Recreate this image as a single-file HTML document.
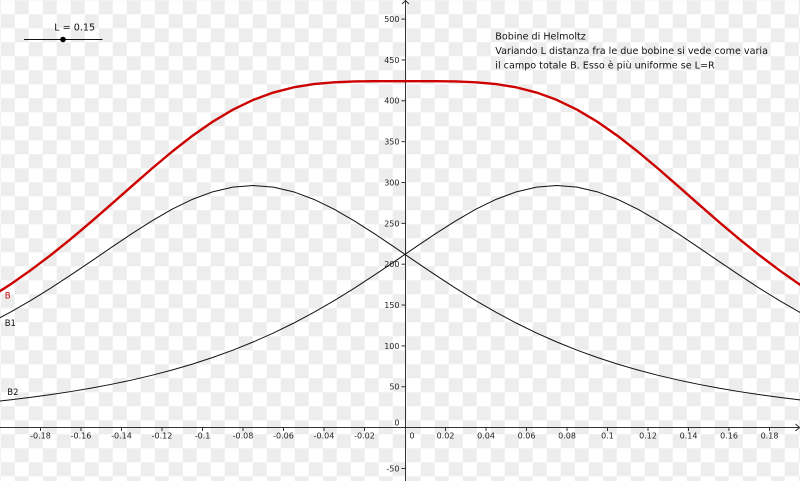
<!DOCTYPE html>
<html>
<head>
<meta charset="utf-8">
<style>
  html, body { margin: 0; padding: 0; background: #fff; }
  body { width: 800px; height: 481px; overflow: hidden; }
  svg { display: block; }
  text { font-family: "DejaVu Sans", "Liberation Sans", sans-serif; }
</style>
</head>
<body>
<svg width="800" height="481" viewBox="0 0 800 481" xmlns="http://www.w3.org/2000/svg">
  <defs>
    <pattern id="cb" x="0.7" y="0.3" width="28" height="28" patternUnits="userSpaceOnUse">
      <rect x="0" y="0" width="28" height="28" fill="#ffffff"/>
      <rect x="14" y="0" width="14" height="14" fill="#ededed"/>
      <rect x="0" y="14" width="14" height="14" fill="#ededed"/>
    </pattern>
  </defs>
  <rect x="0" y="0" width="800" height="481" fill="url(#cb)"/>

  <!-- axes -->
  <g stroke="#333" stroke-width="1" fill="none">
    <line x1="405.5" y1="0" x2="405.5" y2="481"/>
    <line x1="0" y1="427.5" x2="799" y2="427.5"/>
    <polyline points="402,4 405.5,0.5 409,4"/>
    <polyline points="795.5,424 799.5,427.5 795.5,431"/>
  </g>

  <!-- x ticks -->
  <g stroke="#333" stroke-width="1">
    <line x1="40.5" y1="427" x2="40.5" y2="431"/>
    <line x1="81" y1="427" x2="81" y2="431"/>
    <line x1="121.5" y1="427" x2="121.5" y2="431"/>
    <line x1="162" y1="427" x2="162" y2="431"/>
    <line x1="202.5" y1="427" x2="202.5" y2="431"/>
    <line x1="243" y1="427" x2="243" y2="431"/>
    <line x1="283.5" y1="427" x2="283.5" y2="431"/>
    <line x1="324" y1="427" x2="324" y2="431"/>
    <line x1="364.5" y1="427" x2="364.5" y2="431"/>
    <line x1="445.5" y1="427" x2="445.5" y2="431"/>
    <line x1="486" y1="427" x2="486" y2="431"/>
    <line x1="526.5" y1="427" x2="526.5" y2="431"/>
    <line x1="567" y1="427" x2="567" y2="431"/>
    <line x1="607.5" y1="427" x2="607.5" y2="431"/>
    <line x1="648" y1="427" x2="648" y2="431"/>
    <line x1="688.5" y1="427" x2="688.5" y2="431"/>
    <line x1="729" y1="427" x2="729" y2="431"/>
    <line x1="769.5" y1="427" x2="769.5" y2="431"/>
  </g>
  <g font-size="8" fill="#222" text-anchor="middle">
    <text x="40.5" y="438.5">-0.18</text>
    <text x="81" y="438.5">-0.16</text>
    <text x="121.5" y="438.5">-0.14</text>
    <text x="162" y="438.5">-0.12</text>
    <text x="202.5" y="438.5">-0.1</text>
    <text x="243" y="438.5">-0.08</text>
    <text x="283.5" y="438.5">-0.06</text>
    <text x="324" y="438.5">-0.04</text>
    <text x="364.5" y="438.5">-0.02</text>
    <text x="412" y="438.5">0</text>
    <text x="445.5" y="438.5">0.02</text>
    <text x="486" y="438.5">0.04</text>
    <text x="526.5" y="438.5">0.06</text>
    <text x="567" y="438.5">0.08</text>
    <text x="607.5" y="438.5">0.1</text>
    <text x="648" y="438.5">0.12</text>
    <text x="688.5" y="438.5">0.14</text>
    <text x="729" y="438.5">0.16</text>
    <text x="769.5" y="438.5">0.18</text>
  </g>

  <!-- y ticks -->
  <g stroke="#333" stroke-width="1">
    <line x1="401.5" y1="19.1" x2="405.5" y2="19.1"/>
    <line x1="401.5" y1="59.95" x2="405.5" y2="59.95"/>
    <line x1="401.5" y1="100.8" x2="405.5" y2="100.8"/>
    <line x1="401.5" y1="141.65" x2="405.5" y2="141.65"/>
    <line x1="401.5" y1="182.5" x2="405.5" y2="182.5"/>
    <line x1="401.5" y1="223.35" x2="405.5" y2="223.35"/>
    <line x1="401.5" y1="264.2" x2="405.5" y2="264.2"/>
    <line x1="401.5" y1="305.05" x2="405.5" y2="305.05"/>
    <line x1="401.5" y1="345.9" x2="405.5" y2="345.9"/>
    <line x1="401.5" y1="386.75" x2="405.5" y2="386.75"/>
    <line x1="401.5" y1="468.45" x2="405.5" y2="468.45"/>
  </g>
  <g font-size="8" fill="#222" text-anchor="end">
    <text x="399.5" y="22">500</text>
    <text x="399.5" y="62.85">450</text>
    <text x="399.5" y="103.7">400</text>
    <text x="399.5" y="144.55">350</text>
    <text x="399.5" y="185.4">300</text>
    <text x="399.5" y="226.25">250</text>
    <text x="399.5" y="267.1">200</text>
    <text x="399.5" y="307.95">150</text>
    <text x="399.5" y="348.8">100</text>
    <text x="399.5" y="389.65">50</text>
    <text x="399.5" y="425.7">0</text>
    <text x="399.5" y="471.35">-50</text>
  </g>

  <!-- curves -->
  <g fill="none" stroke-linejoin="round" stroke-linecap="round">
    <polyline stroke="#111" stroke-width="1" points="-10.15,323.13 10.1,312.34 30.35,300.65 50.6,288.15 70.85,274.97 91.1,261.31 111.35,247.47 131.6,233.84 151.85,220.92 172.1,209.22 192.35,199.36 212.6,191.84 232.85,187.12 253.1,185.52 273.35,187.12 293.6,191.84 313.85,199.36 334.1,209.22 354.35,220.92 374.6,233.84 394.85,247.47 415.1,261.31 435.35,274.97 455.6,288.15 475.85,300.65 496.1,312.34 516.35,323.13 536.6,333.02 556.85,342.01 577.1,350.16 597.35,357.49 617.6,364.09 637.85,370 658.1,375.31 678.35,380.07 698.6,384.32 718.85,388.14 739.1,391.56 759.35,394.63 779.6,397.39 799.85,399.87 820.1,402.11"/>
    <polyline stroke="#111" stroke-width="1" points="-10.15,402.11 10.1,399.87 30.35,397.39 50.6,394.63 70.85,391.56 91.1,388.14 111.35,384.32 131.6,380.07 151.85,375.31 172.1,370 192.35,364.09 212.6,357.49 232.85,350.16 253.1,342.01 273.35,333.02 293.6,323.13 313.85,312.34 334.1,300.65 354.35,288.15 374.6,274.97 394.85,261.31 415.1,247.47 435.35,233.84 455.6,220.92 475.85,209.22 496.1,199.36 516.35,191.84 536.6,187.12 556.85,185.52 577.1,187.12 597.35,191.84 617.6,199.36 637.85,209.22 658.1,220.92 678.35,233.84 698.6,247.47 718.85,261.31 739.1,274.97 759.35,288.15 779.6,300.65 799.85,312.34 820.1,323.13"/>
    <polyline stroke="#cc0000" stroke-width="2.4" points="-10.15,297.64 10.1,284.61 30.35,270.44 50.6,255.19 70.85,238.93 91.1,221.85 111.35,204.19 131.6,186.31 151.85,168.63 172.1,151.63 192.35,135.84 212.6,121.73 232.85,109.68 253.1,99.93 273.35,92.54 293.6,87.37 313.85,84.09 334.1,82.28 354.35,81.47 374.6,81.21 394.85,81.18 415.1,81.18 435.35,81.21 455.6,81.47 475.85,82.28 496.1,84.09 516.35,87.37 536.6,92.54 556.85,99.93 577.1,109.68 597.35,121.73 617.6,135.84 637.85,151.63 658.1,168.63 678.35,186.31 698.6,204.19 718.85,221.85 739.1,238.93 759.35,255.19 779.6,270.44 799.85,284.61 820.1,297.64"/>
  </g>

  <!-- curve labels -->
  <text x="4.7" y="298.3" font-size="8.5" fill="#cc0000">B</text>
  <text x="4.7" y="326" font-size="8.5" fill="#111">B1</text>
  <text x="7.3" y="395" font-size="8.5" fill="#111">B2</text>

  <!-- slider -->
  <line x1="24" y1="39.5" x2="102.5" y2="39.5" stroke="#111" stroke-width="1"/>
  <circle cx="63" cy="39.5" r="2.8" fill="#000"/>
  <text x="74.7" y="30.3" font-size="9.6" fill="#111" text-anchor="middle">L = 0.15</text>

  <!-- description -->
  <g font-size="9.6" fill="#111">
    <text x="495.3" y="39.7">Bobine di Helmoltz</text>
    <text x="495.3" y="54">Variando L distanza fra le due bobine si vede come varia</text>
    <text x="495.3" y="68.3">il campo totale B. Esso è più uniforme se L=R</text>
  </g>
</svg>
</body>
</html>
